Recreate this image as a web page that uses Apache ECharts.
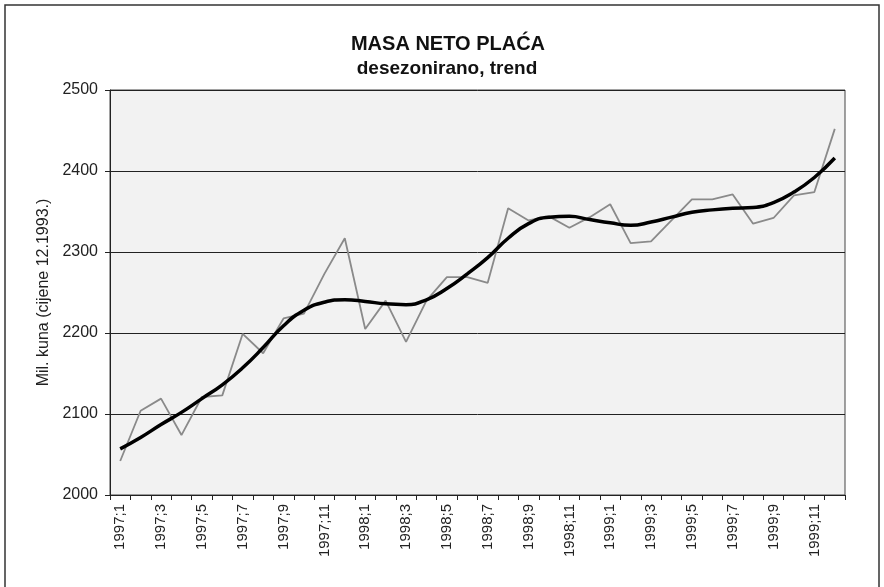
<!DOCTYPE html>
<html>
<head>
<meta charset="utf-8">
<script src="https://cdn.jsdelivr.net/npm/echarts@6/dist/echarts.min.js"></script>
<style>
  html, body { margin: 0; padding: 0; background: #fff; }
  #chart { width: 884px; height: 587px; }
</style>
</head>
<body>
<div id="chart"></div>
<script type="text/javascript">
    // mjeseci 1997;1 .. 1999;12
    var years = ['1997', '1998', '1999'];
    var months = [];
    for (var y = 0; y < years.length; y++) {
        for (var m = 1; m <= 12; m++) {
            months.push(years[y] + ';' + m);
        }
    }

    // desezonirana serija (mil. kuna)
    var desezonirano = [
        2042, 2104, 2119, 2074, 2121, 2123, 2199, 2175, 2218, 2224, 2273, 2317,
        2205, 2240, 2189, 2240, 2269, 2269, 2262, 2354, 2339, 2344, 2330, 2343,
        2359, 2311, 2313, 2339, 2365, 2365, 2371, 2335, 2342, 2370, 2374, 2452
    ];

    // trend
    var trend = [
        2057, 2071, 2087, 2102, 2119, 2136, 2157, 2182, 2209, 2228, 2238, 2241,
        2239, 2236, 2235, 2241, 2255, 2273, 2293, 2317, 2335, 2343, 2344, 2340,
        2336, 2333, 2337, 2343, 2349, 2352, 2354, 2355, 2361, 2374, 2392, 2416
    ];

    var yTicks = { min: 2000, max: 2500, interval: 100 };

    var myChart = echarts.init(document.getElementById('chart'));
    var option = {
        backgroundColor: '#fff',
        animation: false,
        textStyle: { fontFamily: 'Liberation Sans, Arial, sans-serif' },
        title: [
            {
                text: 'MASA NETO PLAĆA',
                left: 443,
                textAlign: 'center',
                top: 29,
                textStyle: { fontSize: 20, fontWeight: 'bold', color: '#111' }
            },
            {
                text: 'desezonirano, trend',
                left: 442,
                textAlign: 'center',
                top: 54,
                textStyle: { fontSize: 19, fontWeight: 'bold', color: '#111' }
            }
        ],
        graphic: [
            {
                type: 'rect',
                shape: { x: 5, y: 5, width: 874, height: 600 },
                style: { fill: 'none', stroke: '#333', lineWidth: 1.5 },
                silent: true
            }
        ],
        grid: {
            left: 110,
            right: 39,
            top: 90,
            bottom: 92,
            show: true,
            backgroundColor: '#f2f2f2',
            borderColor: '#444',
            borderWidth: 1
        },
        xAxis: {
            type: 'category',
            data: months,
            boundaryGap: true,
            axisLine: { lineStyle: { color: '#222', width: 1 } },
            axisTick: { show: true, interval: 0, length: 5, lineStyle: { color: '#222' } },
            axisLabel: {
                interval: 1,
                rotate: 90,
                fontSize: 15,
                color: '#222',
                margin: 9
            },
            splitLine: { show: false }
        },
        yAxis: {
            type: 'value',
            min: yTicks.min,
            max: yTicks.max,
            interval: yTicks.interval,
            name: 'Mil. kuna (cijene 12.1993.)',
            nameLocation: 'middle',
            nameGap: 56,
            nameRotate: 90,
            nameTextStyle: { fontSize: 16, color: '#222' },
            axisLine: { show: true, lineStyle: { color: '#222' } },
            axisTick: { show: true, length: 5, lineStyle: { color: '#222' } },
            axisLabel: {
                fontSize: 16,
                color: '#222',
                margin: 12,
                formatter: function (v) { return String(v); }
            },
            splitLine: { show: true, lineStyle: { color: '#222', width: 1 } }
        },
        series: [
            {
                name: 'desezonirano',
                type: 'line',
                data: desezonirano,
                symbol: 'none',
                lineStyle: { color: '#8a8a8a', width: 1.8 },
                z: 2
            },
            {
                name: 'trend',
                type: 'line',
                data: trend,
                smooth: true,
                symbol: 'none',
                lineStyle: { color: '#000', width: 3.5 },
                z: 3
            }
        ]
    };
    myChart.setOption(option);
</script>
</body>
</html>
